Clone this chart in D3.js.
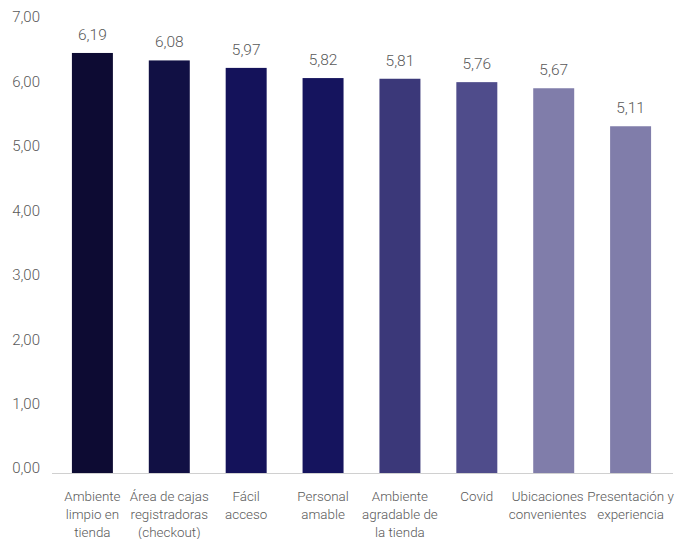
<!DOCTYPE html>
<html><head><meta charset="utf-8">
<script src="https://cdn.jsdelivr.net/npm/d3@7"></script>
<style>
html,body{margin:0;padding:0;background:#fff;}
text{font-family:Roboto,"Noto Sans",sans-serif;}
</style></head>
<body><svg id="c" width="675" height="539"></svg>
<script>
const categories = ["Ambiente\nlimpio en\ntienda","Área de cajas\nregistradoras\n(checkout)","Fácil\nacceso","Personal\namable","Ambiente\nagradable de\nla tienda","Covid","Ubicaciones\nconvenientes","Presentación y\nexperiencia"];
const values = [6.19, 6.08, 5.97, 5.82, 5.81, 5.76, 5.67, 5.11];
const valueLabels = ["6,19","6,08","5,97","5,82","5,81","5,76","5,67","5,11"];
const colors = ["#0d0b33","#111044","#14125a","#15145e","#3b3879","#4f4c8b","#807daa","#807daa"];
const tickValues = [0,1,2,3,4,5,6,7];
const tickLabels = ["0,00","1,00","2,00","3,00","4,00","5,00","6,00","7,00"];

const svg = d3.select("#c");
const x = d3.scaleBand().domain(d3.range(categories.length)).range([54,669]).paddingInner(0.467).paddingOuter(0.233);
const y = d3.scaleLinear().domain([0,7]).range([473,-2]);
const yLab = d3.scaleLinear().domain([0,7]).range([468,17]);
const labelShift = i => (i === 6 ? -6 : 0);

svg.append("g").selectAll("text").data(tickValues).join("text")
  .attr("x",40).attr("y",d=>yLab(d)).attr("dy","0.36em")
  .attr("text-anchor","end").attr("fill","#595959")
  .style("font-size","15px").style("font-weight","300")
  .text((d,i)=>tickLabels[i]);

svg.append("g").selectAll("rect").data(values).join("rect")
  .attr("x",(d,i)=>x(i)).attr("width",x.bandwidth())
  .attr("y",d=>y(d)).attr("height",d=>y(0)-y(d))
  .attr("fill",(d,i)=>colors[i]);

svg.append("line").attr("x1",52).attr("x2",673).attr("y1",y(0)+0.5).attr("y2",y(0)+0.5)
  .attr("stroke","#d0d0d0").attr("stroke-width",1);

svg.append("g").selectAll("text").data(values).join("text")
  .attr("x",(d,i)=>x(i)+x.bandwidth()/2).attr("y",d=>y(d)-13)
  .attr("text-anchor","middle").attr("fill","#595959")
  .style("font-size","15.5px").style("font-weight","300")
  .text((d,i)=>valueLabels[i]);

const cg = svg.append("g").selectAll("text").data(categories).join("text")
  .attr("text-anchor","middle").attr("fill","#595959")
  .style("font-size","13.4px").style("font-weight","300");
cg.each(function(d,i){
  const t=d3.select(this);
  const cx = x(i)+x.bandwidth()/2+labelShift(i);
  d.split("\n").forEach((ln,j)=>{
    t.append("tspan").attr("x",cx).attr("y",501+j*18).text(ln);
  });
});
</script></body></html>
